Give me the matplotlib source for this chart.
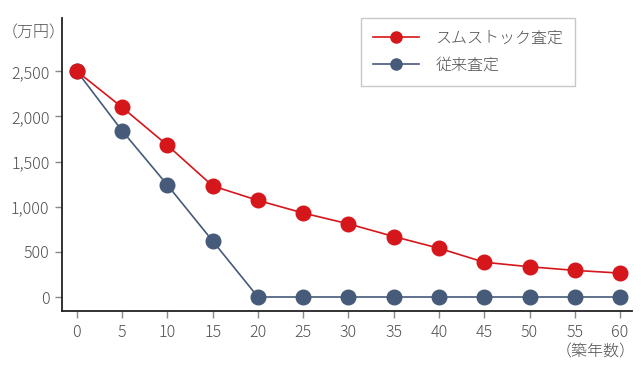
import matplotlib
matplotlib.use("Agg")
import matplotlib.pyplot as plt

plt.rcParams['font.family'] = ['Noto Sans CJK JP', 'DejaVu Sans']
plt.rcParams['font.weight'] = 'light'

years = [0, 5, 10, 15, 20, 25, 30, 35, 40, 45, 50, 55, 60]
sumstock = [2500, 2100, 1680, 1230, 1070, 930, 810, 670, 540, 385, 335, 295, 265]
conventional = [2500, 1840, 1240, 620, 0, 0, 0, 0, 0, 0, 0, 0, 0]
yticks = [0, 500, 1000, 1500, 2000, 2500]

red = '#d5161b'
blue = '#465a79'
text_col = '#505050'

fig = plt.figure(figsize=(6.41, 3.71), dpi=100)
ax = fig.add_axes([0.0967, 0.1617, 0.889, 0.7898])

ax.plot(years, sumstock, color=red, lw=1.2, marker='o', ms=10.5,
        label='スムストック査定', zorder=3)
ax.plot(years, conventional, color=blue, lw=1.2, marker='o', ms=10.5,
        label='従来査定', zorder=2)

ax.set_xlim(-1.65, 61.3)
ax.set_ylim(-155, 3090)
ax.set_xticks(years)
ax.set_yticks(yticks)
ax.set_yticklabels([f"{v:,}" for v in yticks])

for s in ['top', 'right']:
    ax.spines[s].set_visible(False)
for s in ['left', 'bottom']:
    ax.spines[s].set_color('#222222')
    ax.spines[s].set_linewidth(1.3)
ax.tick_params(axis='both', length=5, width=1, color='#888888',
               labelcolor=text_col, labelsize=11.5, pad=4)

fig.text(0.002, 0.912, '（万円）', fontsize=11.5, color=text_col, ha='left', va='center')
fig.text(0.992, 0.05, '（築年数）', fontsize=11.5, color=text_col, ha='right', va='center')

leg = ax.legend(loc='upper left', bbox_to_anchor=(0.5245, 1.0), fontsize=11.5,
                frameon=True, fancybox=False, edgecolor='#bbbbbb',
                handlelength=2.9, handletextpad=1.0, borderpad=0.75,
                labelspacing=0.6, borderaxespad=0)
for t in leg.get_texts():
    t.set_color(text_col)
for h in leg.legend_handles:
    h.set_markersize(8)

fig.savefig('out.png', dpi=100)
